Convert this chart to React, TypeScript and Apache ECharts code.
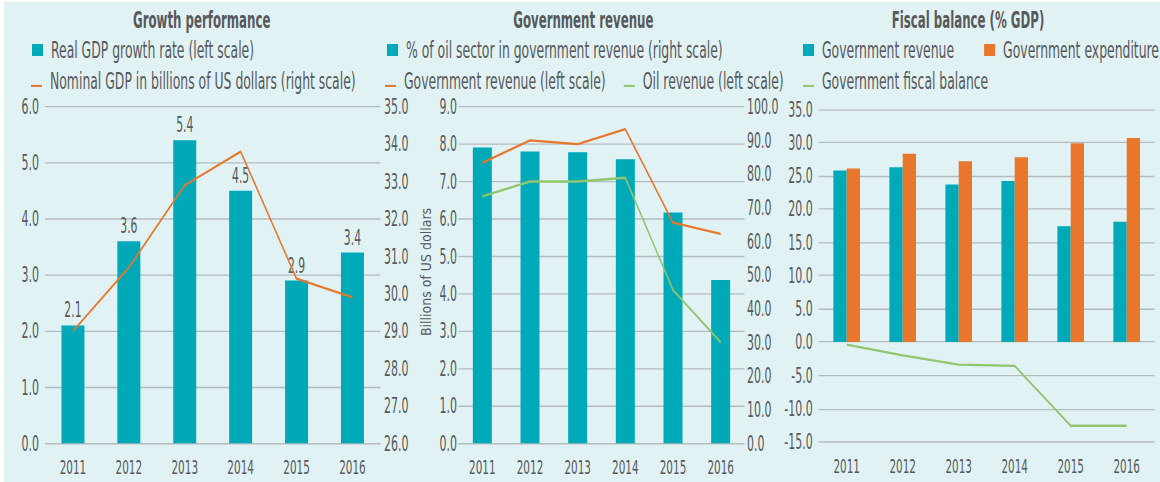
import React, { useEffect, useRef } from "react";
import * as echarts from "echarts";

// ---- data ----
const years = ["2011", "2012", "2013", "2014", "2015", "2016"];
const realGdpGrowth = [2.1, 3.6, 5.4, 4.5, 2.9, 3.4];
const nominalGdpBn = [29.0, 30.7, 32.9, 33.8, 30.4, 29.9];
const oilShareOfRevenue = [87.9, 86.7, 86.5, 84.4, 68.6, 48.5];
const govRevenueBn = [7.5, 8.1, 8.0, 8.4, 5.9, 5.6];
const oilRevenueBn = [6.6, 7.0, 7.0, 7.1, 4.1, 2.7];
const revenuePctGdp = [25.8, 26.3, 23.7, 24.2, 17.4, 18.1];
const expenditurePctGdp = [26.1, 28.3, 27.2, 27.8, 29.9, 30.7];
const fiscalBalancePctGdp = [-0.4, -2.0, -3.4, -3.6, -12.6, -12.6];

// axis ranges [min, max, interval]
const growthLeftRange = [0, 6, 1];
const growthRightRange = [26, 35, 1];
const revenueLeftRange = [0, 9, 1];
const revenueRightRange = [0, 100, 10];
const fiscalRange = [-15, 35, 5];

const titles = ["Growth performance", "Government revenue", "Fiscal balance (% GDP)"];
const revenueAxisName = "Billions of US dollars";
const names = {
  growth: "Real GDP growth rate (left scale)",
  nominal: "Nominal GDP in billions of US dollars (right scale)",
  oilShare: "% of oil sector in government revenue (right scale)",
  govRev: "Government revenue (left scale)",
  oilRev: "Oil revenue (left scale)",
  rev: "Government revenue",
  exp: "Government expenditure",
  bal: "Government fiscal balance",
};

// ---- style ----
const FONT = "'DejaVu Sans Condensed', 'Liberation Sans Narrow', sans-serif";
const TEXT = "#58595b";
const GRIDC = "#b5babc";
const TEAL = "#00a9b7";
const ORANGE = "#e8762b";
const GREEN = "#92c66e";
const BG = "#e1f2f5";
const LINE_ICON = "path://M0,0L0,0M0,5.8h11v1.2h-11z";

// the chart is drawn in a shorter box and stretched vertically, to get the tall condensed type
const CH = 282;
const K = 480 / CH;
const Y = (pageY: number) => (pageY - 2) / K;

const fmt1 = (v: number) => Number(v).toFixed(1);

function yAxis(gridIndex: number, range: number[], position: string, split: boolean, margin: number) {
  return {
    type: "value",
    gridIndex,
    min: range[0],
    max: range[1],
    interval: range[2],
    position,
    axisLine: { show: false },
    axisTick: { show: false },
    splitLine: { show: split, lineStyle: { color: GRIDC, width: 0.8 } },
    axisLabel: { color: TEXT, fontFamily: FONT, fontSize: 12.2, margin, formatter: fmt1 },
  };
}

function xAxis(gridIndex: number, margin: number) {
  return {
    type: "category",
    gridIndex,
    data: years,
    axisLine: { show: false },
    axisTick: { show: false },
    axisLabel: { color: TEXT, fontFamily: FONT, fontSize: 11.6, lineHeight: 14, margin },
  };
}

function legend(left: number, top: number, data: any[], itemGap = 10) {
  return {
    orient: "horizontal",
    left,
    top,
    padding: 0,
    itemGap,
    itemWidth: 11,
    itemHeight: 7,
    selectedMode: false,
    itemStyle: { borderWidth: 0 },
    textStyle: { color: TEXT, fontFamily: FONT, fontSize: 13.8, lineHeight: 16, padding: [0, 0, 0, 3] },
    data,
  };
}

function title(text: string, left: number) {
  return {
    text,
    left,
    top: Y(20) - 8,
    padding: 0,
    textAlign: "center",
    textStyle: { color: TEXT, fontFamily: FONT, fontSize: 13.1, fontWeight: "bold", lineHeight: 16 },
  };
}

function lineSeries(name: string, xAxisIndex: number, yAxisIndex: number, data: number[], color: string) {
  return {
    name,
    type: "line",
    xAxisIndex,
    yAxisIndex,
    data,
    symbol: "none",
    itemStyle: { color },
    lineStyle: { color, width: 1.35 },
  };
}

export default function App() {
  const ref = useRef<HTMLDivElement>(null);

  useEffect(() => {
    if (!ref.current) return;
    const chart = echarts.init(ref.current, undefined, { renderer: "svg" });
    const g1Top = Y(106.7), g1Bottom = Y(443.3);
    const g3Top = Y(109.3), g3Bottom = Y(441.7);
    const option: any = {
      animation: false,
      backgroundColor: BG,
      textStyle: { fontFamily: FONT },
      title: [title(titles[0], 197.7), title(titles[1], 579.3), title(titles[2], 964)],
      legend: [
        legend(28, Y(50) - 8, [{ name: names.growth, icon: "rect" }]),
        legend(27, Y(81) - 8, [{ name: names.nominal, icon: LINE_ICON }]),
        legend(383, Y(50) - 8, [{ name: names.oilShare, icon: "rect" }]),
        legend(381, Y(81) - 8, [{ name: names.govRev, icon: LINE_ICON }, { name: names.oilRev, icon: LINE_ICON }], 18),
        legend(799, Y(50) - 8, [{ name: names.rev, icon: "rect" }, { name: names.exp, icon: "rect" }], 30),
        legend(799, Y(81) - 8, [{ name: names.bal, icon: LINE_ICON }]),
      ],
      grid: [
        { left: 41, top: g1Top, width: 335.4, height: g1Bottom - g1Top },
        { left: 454.5, top: g1Top, width: 286, height: g1Bottom - g1Top },
        { left: 814.7, top: g3Top, width: 336, height: g3Bottom - g3Top },
      ],
      xAxis: [
        xAxis(0, Y(467.5) - g1Bottom - 7),
        xAxis(1, Y(467.5) - g1Bottom - 7),
        xAxis(2, Y(466.7) - g3Bottom - 7),
      ],
      yAxis: [
        yAxis(0, growthLeftRange, "left", true, 6),
        yAxis(0, growthRightRange, "right", false, 3.6),
        yAxis(1, revenueLeftRange, "left", true, 1.5),
        yAxis(1, revenueRightRange, "right", false, 2.6),
        yAxis(2, fiscalRange, "left", true, 6),
      ],
      graphic: [
        {
          type: "text",
          x: 422,
          y: Y(272),
          rotation: Math.PI / 2,
          scaleX: 1 / K,
          scaleY: 1,
          style: {
            text: revenueAxisName,
            fill: TEXT,
            fontFamily: FONT,
            fontSize: 14,
            align: "center",
            verticalAlign: "middle",
          },
        },
      ],
      series: [
        {
          name: names.growth,
          type: "bar",
          xAxisIndex: 0,
          yAxisIndex: 0,
          data: realGdpGrowth,
          barWidth: 23,
          itemStyle: { color: TEAL },
          label: {
            show: true,
            position: "top",
            distance: 3,
            color: TEXT,
            fontFamily: FONT,
            fontSize: 12,
            formatter: (p: any) => fmt1(p.value),
          },
        },
        lineSeries(names.nominal, 0, 1, nominalGdpBn, ORANGE),
        {
          name: names.oilShare,
          type: "bar",
          xAxisIndex: 1,
          yAxisIndex: 3,
          data: oilShareOfRevenue,
          barWidth: 19,
          itemStyle: { color: TEAL },
        },
        lineSeries(names.govRev, 1, 2, govRevenueBn, ORANGE),
        lineSeries(names.oilRev, 1, 2, oilRevenueBn, GREEN),
        {
          name: names.rev,
          type: "bar",
          xAxisIndex: 2,
          yAxisIndex: 4,
          data: revenuePctGdp,
          barWidth: 13.3,
          barGap: "0%",
          itemStyle: { color: TEAL },
        },
        {
          name: names.exp,
          type: "bar",
          xAxisIndex: 2,
          yAxisIndex: 4,
          data: expenditurePctGdp,
          barWidth: 13.3,
          barGap: "0%",
          itemStyle: { color: ORANGE },
        },
        lineSeries(names.bal, 2, 4, fiscalBalancePctGdp, GREEN),
      ],
    };
    chart.setOption(option);
    return () => chart.dispose();
  }, []);

  return (
    <div style={{ position: "fixed", left: 0, top: 0, width: 1160, height: 482, background: "#ffffff" }}>
      <div
        style={{
          position: "absolute",
          left: 4,
          top: 2,
          width: 1156,
          height: CH,
          transform: `scaleY(${K})`,
          transformOrigin: "0 0",
        }}
      >
        <div ref={ref} style={{ width: 1156, height: CH }} />
      </div>
    </div>
  );
}
